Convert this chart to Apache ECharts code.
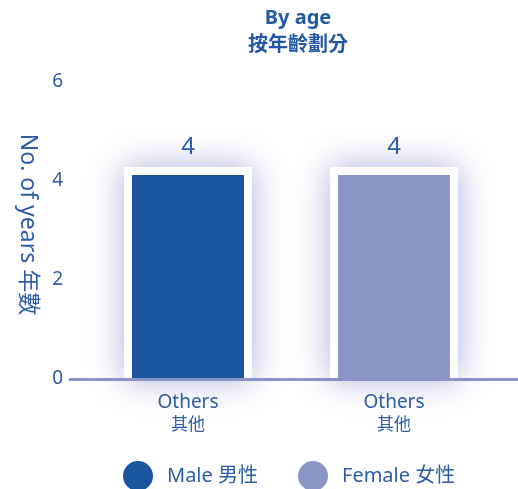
<!DOCTYPE html>
<html><head><meta charset="utf-8">
<script src="https://cdn.jsdelivr.net/npm/echarts@6/dist/echarts.min.js"></script>
<style>html,body{margin:0;padding:0;background:#fff}#c{width:518px;height:489px}</style>
</head><body><div id="c"></div>
<script>
const categories = ['Others\n其他', 'Others\n其他'];
const maleValues = [4.12, null];
const femaleValues = [null, 4.12];
const yTicks = { min: 0, max: 6, interval: 2 };
const seriesNames = ['Male 男性', 'Female 女性'];

const txt = '#2b5ea8';
const font = "'Noto Sans','Noto Sans CJK TC',sans-serif";
const chart = echarts.init(document.getElementById('c'));

function toPoints(values) {
  return values.map((v, i) => v == null ? null : [i, v]).filter(d => d);
}
function framedBar(name, values, color) {
  return {
    name, type: 'custom', xAxisIndex: 0, yAxisIndex: 0,
    itemStyle: { color },
    encode: { x: 0, y: 1 },
    data: toPoints(values),
    renderItem: (params, api) => {
      const top = api.coord([api.value(0), api.value(1)]);
      const base = api.coord([api.value(0), 0]);
      const inner = 112, frame = 8;
      return {
        type: 'group',
        children: [
          { type: 'rect', shape: { x: top[0] - inner / 2 - frame, y: top[1] - frame,
              width: inner + 2 * frame, height: base[1] - top[1] + frame },
            style: { fill: '#fff', shadowBlur: 32, shadowColor: 'rgba(70,70,175,0.45)' } },
          { type: 'rect', shape: { x: top[0] - inner / 2, y: top[1], width: inner, height: base[1] - top[1] },
            style: { fill: color } },
          { type: 'text', x: top[0], y: top[1] - frame - 8,
            style: { text: String(Math.round(api.value(1))), align: 'center', verticalAlign: 'bottom',
              fill: txt, fontSize: 24, fontFamily: font } }
        ]
      };
    }
  };
}
chart.setOption({
  animation: false,
  title: { text: 'By age', subtext: '按年齡劃分', left: 293, textAlign: 'center', top: 3, itemGap: 7,
    textStyle: { color: '#2158a8', fontSize: 20, fontWeight: 'bold', fontFamily: font },
    subtextStyle: { color: '#2158a8', fontSize: 20, fontWeight: 'bold', fontFamily: font } },
  legend: { left: 118, top: 456, itemWidth: 30, itemHeight: 30, itemGap: 40, icon: 'circle',
    textStyle: { color: txt, fontSize: 20, fontFamily: font, padding: [0, 0, 0, 9] },
    data: seriesNames },
  grid: [
    { left: 85, right: 21, top: 82, bottom: 110 },
    { left: 70, right: 0, top: 82, bottom: 110 }
  ],
  xAxis: [
    { type: 'category', gridIndex: 0, data: categories,
      axisLine: { show: false }, axisTick: { show: false },
      axisLabel: { color: txt, fontFamily: font, margin: 12, lineHeight: 23,
        formatter: v => { const [a, b] = v.split('\n'); return '{a|' + a + '}\n{b|' + b + '}'; },
        rich: { a: { fontSize: 19, color: txt, fontFamily: font, lineHeight: 23 },
                b: { fontSize: 17, color: txt, fontFamily: font, lineHeight: 23 } } } },
    { type: 'category', gridIndex: 1, data: ['', ''], z: 5,
      axisLine: { show: true, lineStyle: { color: '#8a93c8', width: 3 } },
      axisTick: { show: false }, axisLabel: { show: false } }
  ],
  yAxis: [
    { type: 'value', gridIndex: 0, min: yTicks.min, max: yTicks.max, interval: yTicks.interval,
      name: 'No. of years 年數', nameLocation: 'middle', nameGap: 46, nameRotate: -90,
      nameTextStyle: { color: txt, fontSize: 23, fontFamily: font, padding: [0, 12, 0, 0] },
      axisLine: { show: false }, axisTick: { show: false }, splitLine: { show: false },
      axisLabel: { color: txt, fontSize: 19, fontFamily: font, margin: 22 } },
    { type: 'value', gridIndex: 1, min: yTicks.min, max: yTicks.max, show: false, splitLine: { show: false } }
  ],
  series: [
    framedBar(seriesNames[0], maleValues, '#1a56a0'),
    framedBar(seriesNames[1], femaleValues, '#8b96c8')
  ]
});
</script></body></html>
